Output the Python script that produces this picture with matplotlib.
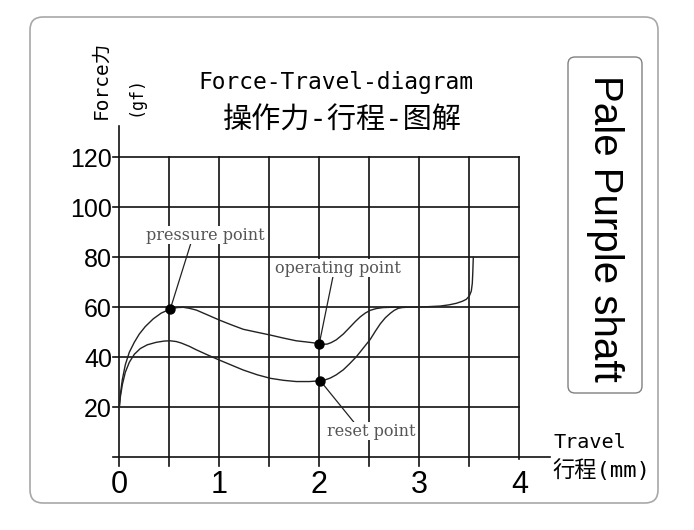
import matplotlib
matplotlib.use('Agg')
import matplotlib.pyplot as plt
from matplotlib.patches import FancyBboxPatch
from matplotlib.transforms import IdentityTransform

plt.rcParams['font.family'] = ['DejaVu Sans Mono', 'Noto Sans CJK SC']

# 按下曲线 (press)
press_x = [0, 0.01, 0.03, 0.06, 0.1, 0.15, 0.2, 0.26, 0.34, 0.42, 0.51, 0.58, 0.64, 0.7, 0.77,
           0.88, 1.0, 1.12, 1.24, 1.38, 1.51, 1.64, 1.77, 1.9, 1.96, 2.0, 2.04, 2.08, 2.12,
           2.17, 2.24, 2.31, 2.36, 2.41, 2.46, 2.51, 2.57, 2.64, 2.72, 2.81, 3.01, 3.21, 3.3,
           3.37, 3.43, 3.47, 3.5, 3.52, 3.53, 3.535, 3.54]
press_y = [20, 25, 31, 37, 42, 46, 49.3, 52.3, 55.4, 57.7, 59.3, 59.9, 60, 59.6, 58.9,
           57.0, 54.9, 53.0, 51.2, 50.0, 48.9, 47.7, 46.6, 46.0, 45.7, 45.5, 45.2, 45.3, 45.9,
           47.0, 49.3, 52.2, 54.3, 56.2, 57.7, 58.8, 59.5, 59.9, 60, 60, 60.1, 60.5, 61.0,
           61.6, 62.4, 63.2, 64.5, 66.5, 69.6, 74, 80]

# 复位曲线 (release)
release_x = [0, 0.01, 0.03, 0.06, 0.1, 0.15, 0.21, 0.28, 0.37, 0.45, 0.51, 0.57, 0.62, 0.7,
             0.77, 0.88, 1.0, 1.12, 1.24, 1.38, 1.51, 1.64, 1.77, 1.9, 2.01, 2.06, 2.11, 2.17,
             2.24, 2.3, 2.37, 2.44, 2.51, 2.56, 2.61, 2.66, 2.71, 2.75, 2.79, 2.83, 2.87]
release_y = [20, 24, 29, 34, 38, 41.2, 43.5, 45.0, 46.0, 46.5, 46.6, 46.3, 45.7, 44.4,
             43.0, 41.0, 38.9, 36.9, 34.9, 33.0, 31.6, 30.8, 30.3, 30.3, 30.6, 31.0, 31.7, 33.0,
             35.0, 37.3, 40.2, 43.7, 47.2, 50.4, 53.4, 55.8, 57.6, 58.8, 59.6, 59.9, 60]

point_names = ['pressure point', 'operating point', 'reset point']
point_x = [0.51, 2.0, 2.01]
point_y = [59.3, 45.5, 30.6]

x_ticks = [0, 1, 2, 3, 4]
y_ticks = [20, 40, 60, 80, 100, 120]
grid_x = [0, 0.5, 1, 1.5, 2, 2.5, 3, 3.5, 4]
grid_y = [0, 20, 40, 60, 80, 100, 120]

W, H = 694, 530
fig = plt.figure(figsize=(W / 100, H / 100), dpi=100)
ax = fig.add_axes([119.3 / W, (H - 457.3) / H, 400 / W, 300 / H])
ax.set_xlim(0, 4)
ax.set_ylim(0, 120)
for s in ax.spines.values():
    s.set_visible(False)

# 网格
gc = '#111111'
for gy in grid_y:
    ax.plot([-0.066, 4.31 if gy == 0 else 4], [gy, gy], color=gc, lw=1.2, clip_on=False, zorder=1)
for gx in grid_x:
    top = 132.5 if gx == 0 else 120
    bottom = -0.5 if gx == 4 else -3.5
    ax.plot([gx, gx], [bottom, top], color=gc, lw=1.2, clip_on=False, zorder=1)

ax.set_xticks(x_ticks)
ax.set_yticks(y_ticks)
ax.tick_params(axis='x', length=0, pad=9, labelsize=22)
ax.tick_params(axis='y', length=0, pad=5.3, labelsize=18)
plt.setp(ax.get_xticklabels() + ax.get_yticklabels(), family='Liberation Sans')

# 曲线
ax.plot(press_x, press_y, color='#222222', lw=1.0, zorder=2, clip_on=False)
ax.plot(release_x, release_y, color='#222222', lw=1.0, zorder=2, clip_on=False)
ax.scatter(point_x, point_y, s=42, color='black', zorder=6, clip_on=False)

# 标注
label_pos = [(0.857, 88.9), (2.187, 75.7), (2.517, 10.5)]
rel = [(0.38, 0.0), (0.46, 0.0), (0.31, 1.0)]
for name, px_, py_, (tx, ty), rp in zip(point_names, point_x, point_y, label_pos, rel):
    ax.annotate(name, xy=(px_, py_), xytext=(tx, ty), textcoords='data',
                ha='center', va='center', fontsize=11.5, color='#555555',
                family='DejaVu Serif', zorder=4, annotation_clip=False,
                bbox=dict(fc='white', ec='none', pad=0.1),
                arrowprops=dict(arrowstyle='-', color='#222222', lw=0.9,
                                shrinkA=0, shrinkB=0, relpos=rp))

ident = IdentityTransform()


def ftext(x, y, s, **kw):
    fig.text(x, H - y, s, transform=ident, **kw)


# 标题和坐标轴文字
ftext(336, 82, 'Force-Travel-diagram', fontsize=16.5, ha='center', va='center')
ftext(342, 121, '操作力-行程-图解', fontsize=21, ha='center', va='center')
ftext(101, 80, 'Force力', fontsize=14, rotation=90, ha='center', va='center')
ftext(136, 96, '(gf)', fontsize=12, rotation=90, ha='center', va='center')
ftext(553, 442, 'Travel', fontsize=14.5, ha='left', va='center')
ftext(552, 470, '行程(mm)', fontsize=16, ha='left', va='center')
ftext(605, 228, 'Pale Purple shaft', fontsize=29, rotation=-90, ha='center', va='center',
      family='Liberation Sans')

# 外框
outer = FancyBboxPatch((30, H - 503), 628, 486, boxstyle='round,pad=0,rounding_size=13',
                       transform=ident, fc='none', ec='#a8a8a8', lw=1.2)
inner = FancyBboxPatch((568, H - 393), 74, 336, boxstyle='round,pad=0,rounding_size=7',
                       transform=ident, fc='none', ec='#808080', lw=1.0)
fig.add_artist(outer)
fig.add_artist(inner)

fig.savefig('out.png', dpi=100)
